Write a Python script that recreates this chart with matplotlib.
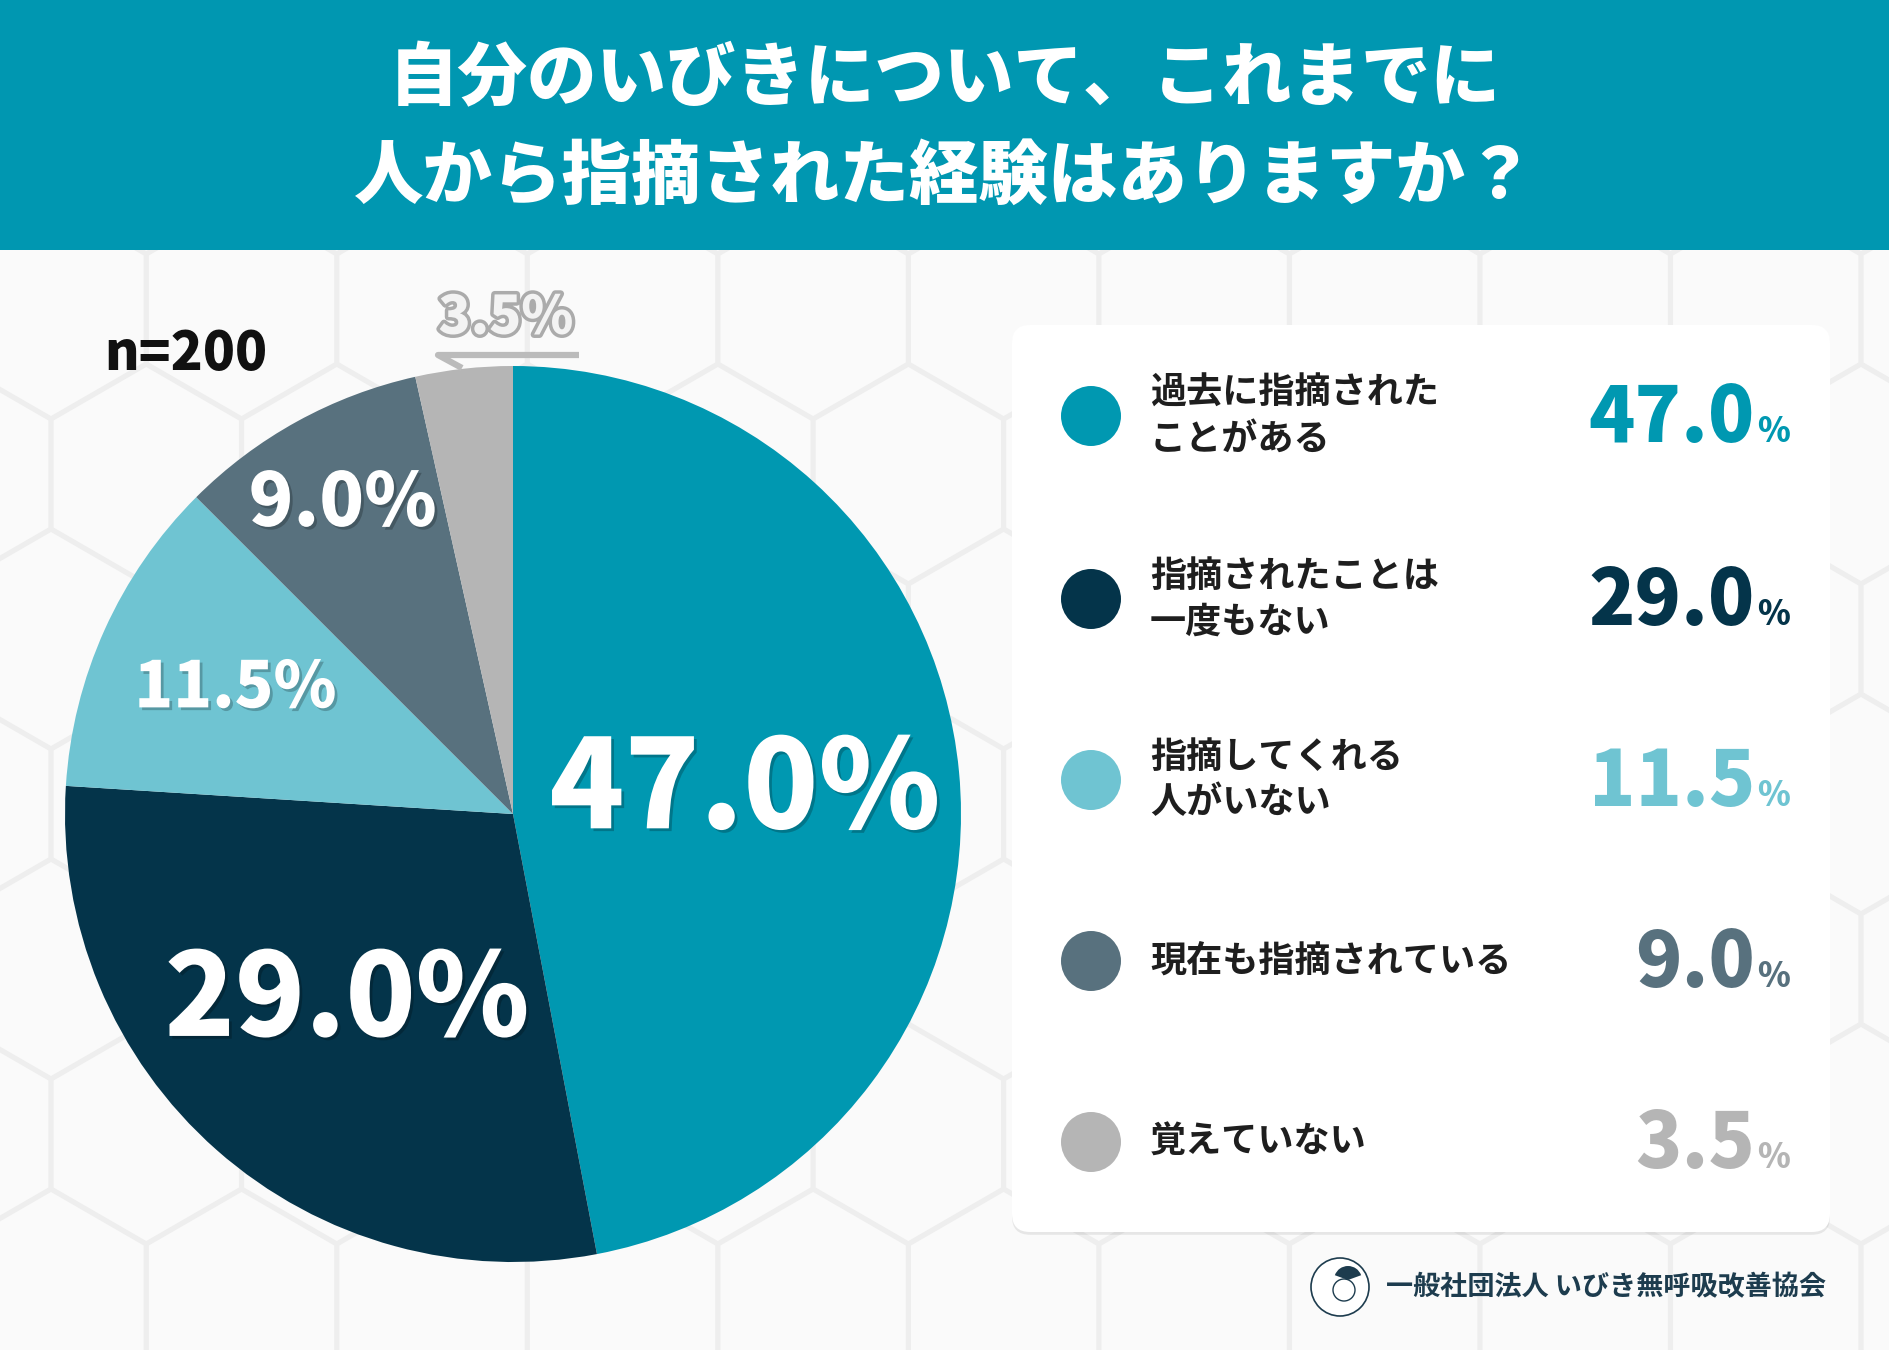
import numpy as np
import matplotlib
matplotlib.use("Agg")
import matplotlib.pyplot as plt
import matplotlib.patheffects as pe
from matplotlib.patches import FancyBboxPatch, RegularPolygon, Circle, Rectangle, Wedge

plt.rcParams["font.family"] = ["Noto Sans CJK JP", "DejaVu Sans"]

# data
title_lines = ["自分のいびきについて、これまでに", "人から指摘された経験はありますか？"]
categories = [
    "過去に指摘された\nことがある",
    "指摘されたことは\n一度もない",
    "指摘してくれる\n人がいない",
    "現在も指摘されている",
    "覚えていない",
]
values = [47.0, 29.0, 11.5, 9.0, 3.5]
colors = ["#0098B1", "#04344A", "#6FC4D2", "#58717E", "#B5B5B5"]
sample_note = "n=200"
org_name = "一般社団法人 いびき無呼吸改善協会"

W, H = 1890, 1350


def Y(y):
    # image coords (top-down) -> data coords
    return H - y


fig = plt.figure(figsize=(W / 100, H / 100), dpi=100)
ax = fig.add_axes([0, 0, 1, 1])
ax.set_xlim(0, W)
ax.set_ylim(0, H)
ax.axis("off")

# background with soft honeycomb
ax.add_patch(Rectangle((0, 0), W, H, facecolor="#EEEEEE", edgecolor="none", zorder=0))
R = 110
dx = np.sqrt(3) * R
for row in range(-1, 8):
    cy = 309 + row * 1.5 * R
    off = 51 if row % 2 == 0 else 51 + dx / 2
    for col in range(-1, 12):
        cx = off + col * dx
        ax.add_patch(RegularPolygon((cx, Y(cy)), 6, radius=R - 3, orientation=0,
                                    facecolor="#FAFAFA", edgecolor="none", zorder=0.5))

# header band
ax.add_patch(Rectangle((0, Y(250)), W, 250, facecolor="#0097B1", edgecolor="none", zorder=1))
for i, line in enumerate(title_lines):
    ax.text(W / 2, Y(80 + i * 97), line, ha="center", va="center", fontsize=50,
            fontweight="heavy", color="white", zorder=2)

# pie
cx, cy, r = 513, 814, 448
wedges, _ = ax.pie(values, colors=colors, startangle=90, counterclock=False,
                   center=(cx, Y(cy)), radius=r, wedgeprops=dict(linewidth=0))
for w in wedges:
    w.set_zorder(3)
ax.set_xlim(0, W)
ax.set_ylim(0, H)
ax.set_aspect("equal")
ax.axis("off")

shadow = [pe.SimplePatchShadow(offset=(2, -2), shadow_rgbFace="black", alpha=0.22), pe.Normal()]
label_r = [0.52, 0.56, 0.68, 0.79]
label_fs = [89, 83, 46, 53]
start = 90.0
for i, v in enumerate(values):
    span = v / 100 * 360
    mid = np.deg2rad(start - span / 2)
    start -= span
    if i < 4:
        lx = cx + label_r[i] * r * np.cos(mid)
        ly = Y(cy) + label_r[i] * r * np.sin(mid)
        ax.text(lx, ly, f"{v:.1f}%", ha="center", va="center", fontsize=label_fs[i],
                fontweight="heavy", color="white", zorder=5, path_effects=shadow)

# small slice label outside
ax.plot([579, 438, 462], [Y(355), Y(355), Y(368)], color="#BBBBBB", lw=4.5,
        solid_capstyle="butt", zorder=4)
ax.text(506, Y(318), f"{values[4]:.1f}%", ha="center", va="center", fontsize=38,
        fontweight="heavy", color="#F3F3F3", zorder=5,
        path_effects=[pe.Stroke(linewidth=5, foreground="#ABABAB"), pe.Normal()])

ax.text(104, Y(354), sample_note, ha="left", va="center", fontsize=38,
        fontweight="heavy", color="#111111", zorder=5)

# legend card
card = FancyBboxPatch((1012, Y(1232)), 818, 907, boxstyle="round,pad=0,rounding_size=18",
                      facecolor="white", edgecolor="none", zorder=3,
                      path_effects=[pe.SimplePatchShadow(offset=(0, -2), alpha=0.08,
                                                         shadow_rgbFace="black"), pe.Normal()])
ax.add_patch(card)

row_y = [416, 599, 780, 961, 1142]
renderer = fig.canvas.get_renderer()
for i, (cat, v, c) in enumerate(zip(categories, values, colors)):
    yy = Y(row_y[i])
    ax.add_patch(Circle((1091, yy), 30, facecolor=c, edgecolor="none", zorder=4))
    ax.text(1150, yy, cat, ha="left", va="center", fontsize=26, fontweight="bold",
            color="#1E1E1E", linespacing=1.3, zorder=4)
    pct = ax.text(1790, yy - 26, "%", ha="right", va="baseline", fontsize=24,
                  fontweight="heavy", color=c, zorder=4)
    pw = pct.get_window_extent(renderer).width
    ax.text(1790 - pw - 2, yy - 26, f"{v:.1f}", ha="right", va="baseline", fontsize=55,
            fontweight="heavy", color=c, zorder=4)

# organisation mark
navy = "#1D3C4E"
ax.add_patch(Circle((1340, Y(1287)), 29, facecolor="white", edgecolor=navy, lw=1.2, zorder=4))
ax.add_patch(Wedge((1348, Y(1280)), 14, 20, 160, facecolor=navy, edgecolor="none", zorder=5))
ax.add_patch(Circle((1344, Y(1290)), 11, facecolor="none", edgecolor=navy, lw=1, zorder=5))
ax.text(1386, Y(1287), org_name, ha="left", va="center", fontsize=19.5, fontweight="bold",
        color=navy, zorder=4)

fig.savefig("out.png", dpi=100)
